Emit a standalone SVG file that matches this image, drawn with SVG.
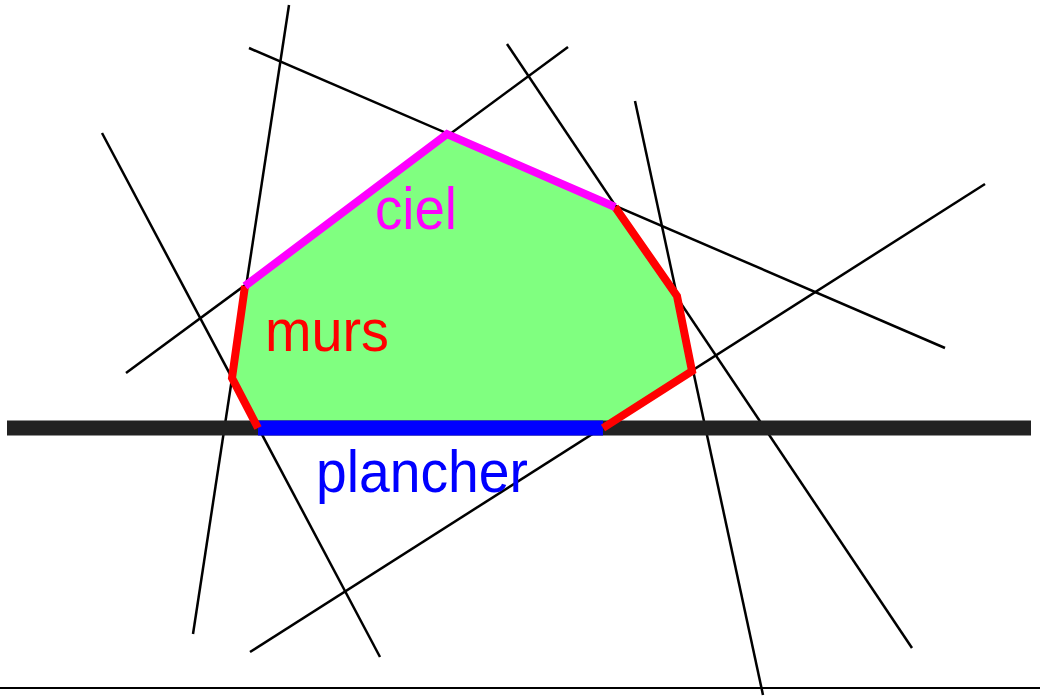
<svg xmlns="http://www.w3.org/2000/svg" width="1040" height="700" viewBox="0 0 1040 700">
<style>
.ln{stroke:#000;stroke-width:2.5;fill:none}
.edge{fill:none;stroke-width:8;stroke-linejoin:miter;stroke-linecap:butt}
.lbl{font-family:"Liberation Sans","DejaVu Sans",sans-serif;font-size:60px}
</style>
<rect width="1040" height="700" fill="#fff"/>
<g id="region">
<polygon points="447,134 615,207 677,296 692,371 603,428 258,428 232,378 245,286" fill="#80ff80"/>
</g>
<g id="connectors">
<line class="ln" x1="289" y1="5" x2="193" y2="634"/>
<line class="ln" x1="249" y1="48" x2="945" y2="348"/>
<line class="ln" x1="126" y1="373" x2="568" y2="47"/>
<line class="ln" x1="102" y1="133" x2="380" y2="657"/>
<line class="ln" x1="507" y1="44" x2="912" y2="648"/>
<line class="ln" x1="635" y1="101" x2="763" y2="695"/>
<line class="ln" x1="250" y1="652" x2="985" y2="184"/>
<line x1="0" y1="688" x2="1040" y2="688" stroke="#000" stroke-width="2"/>
<line id="floor" x1="7" y1="428" x2="1031" y2="428" stroke="#222" stroke-width="15"/>
</g>
<g id="plancher">
<line x1="258" y1="428" x2="603" y2="428" stroke="#0000ff" stroke-width="15"/>
<text class="lbl" x="316" y="492" fill="#0000ff" textLength="212" lengthAdjust="spacingAndGlyphs">plancher</text>
</g>
<g id="murs">
<polyline class="edge" stroke="#ff0000" points="615,207 677,296 692,371 603,428"/>
<polyline class="edge" stroke="#ff0000" points="245,286 232,378 258,428"/>
<text class="lbl" x="265" y="351" fill="#ff0000" textLength="124" lengthAdjust="spacingAndGlyphs">murs</text>
</g>
<g id="ciel">
<polyline class="edge" stroke="#ff00ff" points="245,286 447,134 615,207"/>
<text class="lbl" x="375" y="229" fill="#ff00ff" textLength="82" lengthAdjust="spacingAndGlyphs">ciel</text>
</g>
</svg>
